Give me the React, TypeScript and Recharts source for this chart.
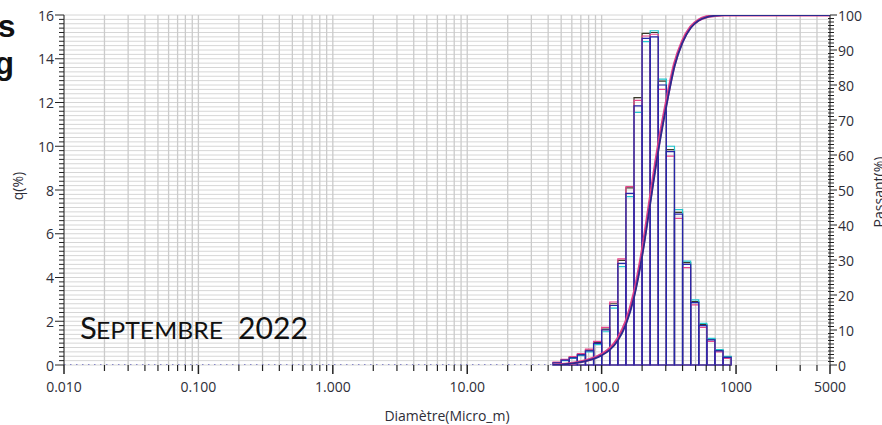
import React from "react";
import { ComposedChart, XAxis, YAxis, CartesianGrid, Line, ReferenceArea } from "recharts";

// Bin edges (Micro_m)
const binEdges = [43.5, 50, 57.4, 66, 75.8, 87.1, 100, 114.9, 132, 151.6, 174.1, 200, 229.7, 263.9, 303.1, 348.2, 400, 459.5, 527.8, 606.3, 696.4, 800, 919];

// q(%) per bin, one array per measurement (tops drawn in different colours)
const qNavy = [0.1, 0.22, 0.33, 0.46, 0.65, 0.99, 1.6, 2.72, 4.65, 7.85, 11.85, 14.93, 15.0, 12.8, 9.75, 6.9, 4.6, 2.85, 1.8, 1.15, 0.65, 0.35];
const qPink = [0.13, 0.26, 0.38, 0.52, 0.73, 1.08, 1.72, 2.88, 4.85, 8.15, 12.1, 15.04, 15.12, 12.6, 9.55, 6.7, 4.45, 2.75, 1.72, 1.08, 0.6, 0.3];
const qCyan = [0.08, 0.2, 0.3, 0.43, 0.6, 0.93, 1.52, 2.6, 4.5, 7.7, 11.55, 14.78, 15.28, 13.07, 10.0, 7.1, 4.75, 2.98, 1.9, 1.22, 0.7, 0.4];
const qBlack = [0.11, 0.23, 0.35, 0.48, 0.68, 1.02, 1.64, 2.8, 4.78, 8.1, 12.22, 15.16, 15.2, 12.98, 9.85, 6.98, 4.68, 2.9, 1.85, 1.18, 0.67, 0.37];

// Passant(%) at each bin edge
const passantNavy = [0, 0.1, 0.3, 0.65, 1.1, 1.75, 2.75, 4.3, 7.0, 11.6, 19.3, 31.0, 46.0, 61.2, 74.0, 85.3, 92.2, 96.3, 98.4, 99.4, 99.8, 100, 100];
const passantPink = [0, 0.12, 0.36, 0.75, 1.25, 1.95, 3.05, 4.7, 7.6, 12.4, 20.4, 32.4, 47.6, 62.6, 75.1, 86.0, 92.6, 96.6, 98.6, 99.5, 99.85, 100, 100];

const xMajorTicks = [0.01, 0.1, 1, 10, 100, 1000, 5000];
const xMajorLabels = ["0.010", "0.100", "1.000", "10.00", "100.0", "1000", "5000"];
const decades = [0.01, 0.1, 1, 10, 100, 1000];

const xTicks: number[] = [];
decades.forEach((d) => {
  for (let m = 1; m <= 9; m++) {
    const v = Number((d * m).toPrecision(3));
    if (v <= 5000) xTicks.push(v);
  }
});
const leftTicks: number[] = [];
for (let i = 0; i <= 80; i++) leftTicks.push(Number((i * 0.2).toFixed(1)));
const rightTicks: number[] = [];
for (let i = 0; i <= 100; i++) rightTicks.push(i);

const rows: any[] = [
  { d: 0.01, base: 0 },
  ...binEdges.map((d, i) => ({ d, base: i === 0 ? 0 : undefined, pN: passantNavy[i], pP: passantPink[i] })),
  { d: 5000, pN: 100, pP: 100 },
];

const font = "'Open Sans', sans-serif";
const txt = "#2e2e38";

const XTick = (props: any) => {
  const { x, y, payload } = props;
  const idx = xMajorTicks.indexOf(payload.value);
  const major = idx >= 0;
  return (
    <g>
      <line x1={x} x2={x} y1={y} y2={y + (major ? 9 : 6)} stroke="#222" strokeWidth={major ? 1.5 : 1.2} />
      {major && (
        <text x={x} y={y + 27} textAnchor="middle" fontSize={14} fontFamily={font} fill={txt}>
          {xMajorLabels[idx]}
        </text>
      )}
    </g>
  );
};

const LeftTick = (props: any) => {
  const { x, y, payload } = props;
  const v = payload.value;
  const major = Math.abs(v / 2 - Math.round(v / 2)) < 1e-6;
  return (
    <g>
      <line x1={x - (major ? 9 : 5)} x2={x} y1={y} y2={y} stroke="#222" strokeWidth={1} />
      {major && (
        <text x={x - 10} y={y} textAnchor="end" dominantBaseline="central" fontSize={14} fontFamily={font} fill={txt}>
          {v}
        </text>
      )}
    </g>
  );
};

const RightTick = (props: any) => {
  const { x, y, payload } = props;
  const v = payload.value;
  const major = v % 10 === 0;
  return (
    <g>
      <line x1={major ? x : x - 2} x2={x + (major ? 7 : 4)} y1={y} y2={y} stroke="#222" strokeWidth={1} />
      {major && (
        <text x={x + 8} y={y} textAnchor="start" dominantBaseline="central" fontSize={14} fontFamily={font} fill={txt}>
          {v}
        </text>
      )}
    </g>
  );
};

const barSeries = [
  { q: qBlack, color: "#3a3a2a" },
  { q: qCyan, color: "#22c8d0" },
  { q: qPink, color: "#e8468c" },
  { q: qNavy, color: "#2626aa" },
];

export default function App() {
  return (
    <div style={{ position: "absolute", left: 0, top: 0, width: 882, height: 425, background: "#fff" }}>
      <ComposedChart width={882} height={425} data={rows} margin={{ top: 15, right: 0, bottom: 0, left: 0 }}>
        <CartesianGrid yAxisId="left" vertical={false} stroke="#d6d6d6" strokeWidth={1} />
        <CartesianGrid yAxisId="left" horizontal={false} stroke="#cbcbcb" strokeWidth={1.3} />
        <XAxis
          dataKey="d"
          type="number"
          scale="log"
          domain={[0.01, 5000]}
          allowDataOverflow
          ticks={xTicks}
          interval={0}
          tick={<XTick />}
          tickLine={false}
          tickSize={0}
          tickMargin={0}
          axisLine={false}
          height={60}
        />
        <YAxis
          yAxisId="left"
          orientation="left"
          type="number"
          domain={[0, 16]}
          allowDataOverflow
          ticks={leftTicks}
          interval={0}
          tick={<LeftTick />}
          tickLine={false}
          tickSize={0}
          tickMargin={0}
          axisLine={{ stroke: "#333", strokeWidth: 1 }}
          width={64}
        />
        <YAxis
          yAxisId="right"
          orientation="right"
          type="number"
          domain={[0, 100]}
          allowDataOverflow
          ticks={rightTicks}
          interval={0}
          tick={<RightTick />}
          tickLine={false}
          tickSize={0}
          tickMargin={0}
          axisLine={{ stroke: "#333", strokeWidth: 1 }}
          width={52}
        />
        {barSeries.map((s, si) =>
          s.q.map((v, i) => (
            <ReferenceArea
              key={`b${si}-${i}`}
              yAxisId="left"
              x1={binEdges[i]}
              x2={binEdges[i + 1]}
              y1={0}
              y2={v}
              fill="none"
              fillOpacity={0}
              stroke={s.color}
              strokeWidth={1.2}
              ifOverflow="visible"
            />
          ))
        )}
        <Line
          yAxisId="left"
          dataKey="base"
          stroke="#2424a4"
          strokeWidth={1}
          strokeDasharray="1.5 4.5"
          dot={false}
          activeDot={false}
          connectNulls
          isAnimationActive={false}
        />
        <Line
          yAxisId="right"
          type="monotone"
          dataKey="pP"
          stroke="#e0408a"
          strokeWidth={3}
          dot={false}
          activeDot={false}
          connectNulls
          isAnimationActive={false}
        />
        <Line
          yAxisId="right"
          type="monotone"
          dataKey="pN"
          stroke="#2a2a8e"
          strokeWidth={1.8}
          dot={false}
          activeDot={false}
          connectNulls
          isAnimationActive={false}
        />
      </ComposedChart>
      <svg width={882} height={425} style={{ position: "absolute", left: 0, top: 0, pointerEvents: "none" }}>
        <text x={15.5} y={37} textAnchor="end" fontSize={32} fontWeight="bold" fontFamily="'Liberation Sans', sans-serif" fill="#111">s</text>
        <text x={14} y={73.5} textAnchor="end" fontSize={32} fontWeight="bold" fontFamily="'Liberation Sans', sans-serif" fill="#111">g</text>
        <text x={17} y={186} transform="rotate(-90 17 186)" textAnchor="middle" dominantBaseline="central" fontSize={14} fontFamily={font} fill={txt}>q(%)</text>
        <text x={884} y={192} transform="rotate(-90 884 192)" textAnchor="middle" fontSize={14} fontFamily={font} fill={txt}>Passant(%)</text>
        <text x={447} y={421} textAnchor="middle" fontSize={14} fontFamily={font} fill={txt}>Diamètre(Micro_m)</text>
        <text x={80} y={339} fontSize={31} fontFamily="Lato, sans-serif" fill="#111">S</text>
        <text x={96} y={339} fontSize={24} fontFamily="Lato, sans-serif" fill="#111" textLength={127} lengthAdjust="spacingAndGlyphs">EPTEMBRE</text>
        <text x={238} y={339} fontSize={31} fontFamily="Lato, sans-serif" fill="#111" textLength={70} lengthAdjust="spacingAndGlyphs">2022</text>
      </svg>
    </div>
  );
}
